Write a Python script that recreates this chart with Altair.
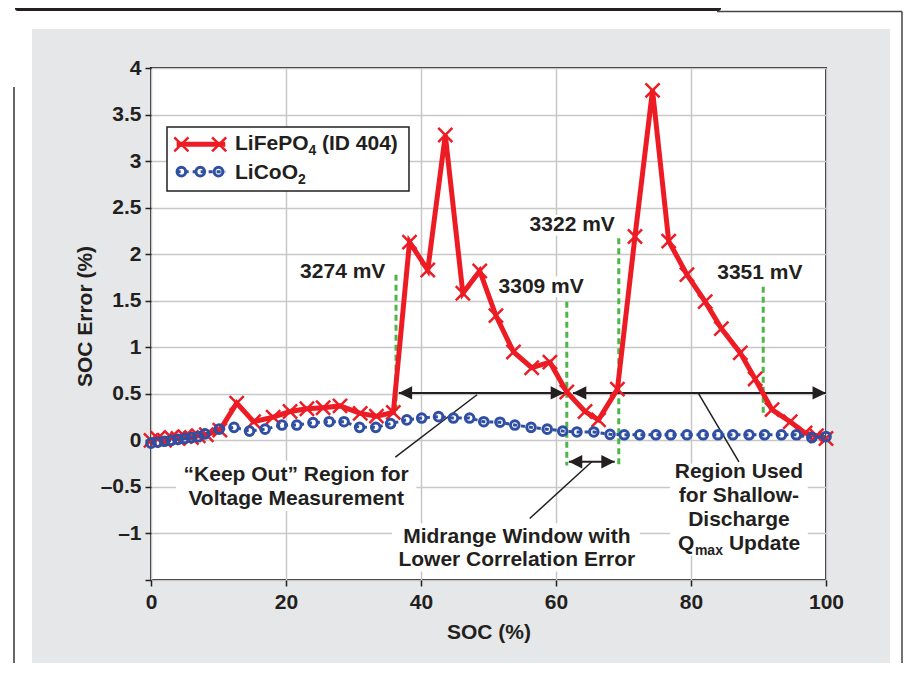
import altair as alt
import pandas as pd

# ---------------- data ----------------
soc_fe = [0, 1, 2, 3, 4, 5, 6, 7, 8.2, 10.2, 12.7, 15.2, 18.1, 20.6, 23.1, 25.5, 28.0, 31.0,
          33.4, 35.9, 38.3, 41.0, 43.6, 46.2, 48.7, 51.1, 53.7, 56.4, 59.1, 61.6, 64.3, 66.3,
          69.1, 71.7, 74.3, 76.7, 79.4, 82.1, 84.5, 87.3, 89.5, 92.0, 94.7, 96.9, 98.6, 100]
err_fe = [0.0, 0.02, 0.0, 0.03, 0.02, 0.04, 0.03, 0.05, 0.06, 0.11, 0.40, 0.20, 0.25, 0.31,
          0.34, 0.35, 0.37, 0.29, 0.26, 0.30, 2.13, 1.83, 3.28, 1.58, 1.82, 1.34, 0.95, 0.78,
          0.84, 0.52, 0.31, 0.22, 0.55, 2.19, 3.76, 2.14, 1.78, 1.49, 1.20, 0.94, 0.66, 0.33,
          0.20, 0.08, 0.05, 0.02]

soc_co = [0, 1, 2, 3, 4, 5, 6, 7, 8, 10.1, 12.3, 14.6, 16.9, 19.4, 21.6, 24.0, 26.4, 28.6,
          30.9, 33.3, 35.5, 37.9, 40.1, 42.6, 44.8, 47.2, 49.3, 51.7, 53.9, 56.3, 58.7, 61.0,
          63.1, 65.6, 68.0, 70.1, 72.4, 74.8, 77.0, 79.4, 81.8, 84.0, 86.2, 88.6, 90.9, 93.4,
          95.6, 97.9, 100]
err_co = [-0.03, -0.02, -0.01, 0.0, 0.01, 0.02, 0.03, 0.04, 0.07, 0.12, 0.14, 0.10, 0.12,
          0.165, 0.165, 0.19, 0.20, 0.20, 0.14, 0.14, 0.18, 0.22, 0.24, 0.255, 0.24, 0.24,
          0.20, 0.195, 0.165, 0.14, 0.12, 0.10, 0.09, 0.09, 0.065, 0.06, 0.06, 0.06, 0.06,
          0.06, 0.06, 0.06, 0.06, 0.06, 0.06, 0.06, 0.06, 0.03, 0.04]

x_ticks = [0, 20, 40, 60, 80, 100]
y_ticks = [-1.5, -1, -0.5, 0, 0.5, 1, 1.5, 2, 2.5, 3, 3.5, 4]

# voltage markers (green dashed)
mv_label = ["3274 mV", "3309 mV", "3322 mV", "3351 mV"]
mv_soc = [36.3, 61.6, 69.3, 90.7]
mv_top = [1.78, 1.49, 2.17, 1.65]
mv_bottom = [0.28, -0.27, -0.27, 0.29]
mv_label_soc = [28.4, 57.8, 62.4, 90.2]
mv_label_err = [1.81, 1.65, 2.31, 1.80]

# double arrows
arr_from = [36.7, 62.5, 61.9]
arr_to = [61.2, 100.0, 68.7]
arr_err = [0.51, 0.51, -0.23]

# leader lines
lead_soc = [36.2, 56.1, 81.1]
lead_err = [-0.18, -0.84, 0.505]
lead_soc2 = [48.3, 65.3, 87.1]
lead_err2 = [0.49, -0.23, -0.23]

# annotation text lines
note_text = ["\u201cKeep Out\u201d Region for", "Voltage Measurement",
             "Midrange Window with", "Lower Correlation Error",
             "Region Used", "for Shallow-", "Discharge"]
note_soc = [21.5, 21.5, 54.2, 54.2, 87.1, 87.1, 87.1]
note_err = [-0.37, -0.63, -1.04, -1.29, -0.34, -0.60, -0.86]

# white boxes behind annotation text
box_soc = [3.7, 35.7, 76.9, 21.8, 51.3, 55.9, 83.7]
box_soc2 = [39.3, 72.4, 97.3, 35.0, 64.3, 68.9, 96.7]
box_err = [-0.22, -0.89, -0.25, 1.70, 1.54, 2.20, 1.69]
box_err2 = [-0.76, -1.41, -1.24, 1.92, 1.76, 2.42, 1.91]

INK = "#231f20"
RED = "#ed1c24"
BLUE = "#2f4fa2"
GREEN = "#4cb748"
FONT = "Liberation Sans, Arial, Helvetica, sans-serif"

one = pd.DataFrame({"a": [0]})
fe = pd.DataFrame({"soc": soc_fe, "err": err_fe})
co = pd.DataFrame({"soc": soc_co, "err": err_co})
mv = pd.DataFrame({"soc": mv_soc, "err": mv_top, "err2": mv_bottom})
mvl = pd.DataFrame({"soc": mv_label_soc, "err": mv_label_err, "label": mv_label})
arr = pd.DataFrame({"soc": arr_from, "soc2": arr_to, "err": arr_err})
lead = pd.DataFrame({"soc": lead_soc, "err": lead_err, "soc2": lead_soc2, "err2": lead_err2})
notes = pd.DataFrame({"soc": note_soc, "err": note_err, "label": note_text})
boxes = pd.DataFrame({"soc": box_soc, "soc2": box_soc2, "err": box_err, "err2": box_err2})

xs = alt.Scale(domain=[0, 100], nice=False, zero=False)
ys = alt.Scale(domain=[-1.5, 4], nice=False, zero=False)

X_AXIS = alt.Axis(values=x_ticks, title="SOC (%)", grid=True, gridColor="#c8c8c8",
                  gridWidth=1.5, domain=False, ticks=True, tickSize=6, tickWidth=1.5,
                  tickColor=INK, labelFont=FONT, labelFontWeight="bold", labelFontSize=21,
                  labelColor=INK, labelPadding=5, labelFlush=False, labelOverlap=False,
                  titleFont=FONT, titleFontWeight="bold", titleFontSize=21, titleColor=INK,
                  titleY=52, titleBaseline="middle")
Y_AXIS = alt.Axis(values=y_ticks, title="SOC Error (%)", grid=True, gridColor="#c8c8c8",
                  gridWidth=1.5, domain=False, ticks=True, tickSize=6, tickWidth=1.5,
                  tickColor=INK, labelFont=FONT, labelFontWeight="bold", labelFontSize=21,
                  labelColor=INK, labelPadding=4, labelOverlap=False,
                  labelExpr="datum.value == -1.5 ? '' : (datum.value < 0 ? '\u2013' + format(-datum.value, '') : format(datum.value, ''))",
                  titleFont=FONT, titleFontWeight="bold", titleFontSize=21, titleColor=INK,
                  titleX=-66, titleY=248, titleBaseline="middle")


def X(field="soc"):
    return alt.X(f"{field}:Q", scale=xs, axis=X_AXIS)


def Y(field="err"):
    return alt.Y(f"{field}:Q", scale=ys, axis=Y_AXIS)


# ---------- decorations in pixel space (page frame) ----------
def prect(x, x2, y, y2, color, **kw):
    return alt.Chart(one).mark_rect(color=color, **kw).encode(
        x=alt.value(x), x2=alt.value(x2), y=alt.value(y), y2=alt.value(y2))


def pline(x, x2, y, y2, color, width):
    return alt.Chart(one).mark_rule(color=color, strokeWidth=width).encode(
        x=alt.value(x), x2=alt.value(x2), y=alt.value(y), y2=alt.value(y2))


frame = [
    prect(-143, 752, -60, -39, "white"),
    prect(-143, -119, -60, 600, "white"),
    prect(739, 752, -60, 600, "white"),
    prect(-136, 570, -62, -57, "#231f20", cornerRadiusBottomRight=6, cornerRadiusBottomLeft=6),
    pline(566, 751, -56.5, -56.5, "#444444", 1.5),
    pline(751, 751, -56.5, 600, "#444444", 1.5),
    pline(-137, -137, 19, 600, "#666666", 2),
]

# ---------- plot layers ----------
white_boxes = alt.Chart(boxes).mark_rect(color="white").encode(
    x=X(), x2="soc2:Q", y=Y(), y2="err2:Q")

green = alt.Chart(mv).mark_rule(color=GREEN, strokeWidth=3, strokeDash=[6, 4]).encode(
    x=X(), y=Y(), y2="err2:Q")

mv_text = alt.Chart(mvl).mark_text(font=FONT, fontWeight="bold", fontSize=21, color=INK,
                                   align="center", baseline="middle").encode(
    x=X(), y=Y(), text="label:N")

arrow_shaft = alt.Chart(arr).mark_rule(color=INK, strokeWidth=2).encode(
    x=X(), x2="soc2:Q", y=Y())
arrow_left = alt.Chart(arr).mark_point(shape="M0,0L2,-1L2,1Z", filled=True, color=INK,
                                       size=180, opacity=1).encode(x=X(), y=Y())
arrow_right = alt.Chart(arr).mark_point(shape="M0,0L-2,-1L-2,1Z", filled=True, color=INK,
                                        size=180, opacity=1).encode(x=X("soc2"), y=Y())

leaders = alt.Chart(lead).mark_rule(color=INK, strokeWidth=1.5).encode(
    x=X(), x2="soc2:Q", y=Y(), y2="err2:Q")

note_layer = alt.Chart(notes).mark_text(font=FONT, fontWeight="bold", fontSize=21, color=INK,
                                        align="center", baseline="middle").encode(
    x=X(), y=Y(), text="label:N")

qmax = pd.DataFrame({"soc": [87.1], "err": [-1.11]})
q_main = alt.Chart(qmax).mark_text(text="Q", font=FONT, fontWeight="bold", fontSize=21,
                                   color=INK, align="left", baseline="middle", dx=-61).encode(
    x=X(), y=Y())
q_sub = alt.Chart(qmax).mark_text(text="max", font=FONT, fontWeight="bold", fontSize=14,
                                  color=INK, align="left", baseline="middle", dx=-44, dy=7).encode(
    x=X(), y=Y())
q_rest = alt.Chart(qmax).mark_text(text="Update", font=FONT, fontWeight="bold", fontSize=21,
                                   color=INK, align="left", baseline="middle", dx=-10).encode(
    x=X(), y=Y())

red_line = alt.Chart(fe).mark_line(color=RED, strokeWidth=5, strokeJoin="miter").encode(
    x=X(), y=Y())
red_pts = alt.Chart(fe).mark_point(shape="M-1,-1L1,1M-1,1L1,-1", filled=False, color=RED,
                                   strokeWidth=2.5, size=200, opacity=1).encode(x=X(), y=Y())

blue_line = alt.Chart(co).mark_line(color=BLUE, strokeWidth=3, strokeDash=[4, 4]).encode(
    x=X(), y=Y())
blue_pts = alt.Chart(co).mark_point(shape="circle", filled=False, color=BLUE, strokeWidth=3,
                                    size=75, opacity=1).encode(x=X(), y=Y())

# ---------- legend (drawn in data space) ----------
leg_box = pd.DataFrame({"soc": [2.37], "soc2": [38.22], "err": [3.366], "err2": [2.679]})
legend_box = alt.Chart(leg_box).mark_rect(fill="white", stroke=INK, strokeWidth=1.5).encode(
    x=X(), x2="soc2:Q", y=Y(), y2="err2:Q")
leg_red = pd.DataFrame({"soc": [3.8, 11.0], "err": [3.18, 3.18]})
leg_red_m = pd.DataFrame({"soc": [4.5, 10.1], "err": [3.18, 3.18]})
leg_blue = pd.DataFrame({"soc": [3.8, 11.0], "err": [2.886, 2.886]})
leg_blue_m = pd.DataFrame({"soc": [4.5, 7.3, 10.0], "err": [2.886, 2.886, 2.886]})
legend_layers = [
    legend_box,
    alt.Chart(leg_red).mark_line(color=RED, strokeWidth=5).encode(x=X(), y=Y()),
    alt.Chart(leg_red_m).mark_point(shape="M-1,-1L1,1M-1,1L1,-1", filled=False, color=RED,
                                    strokeWidth=2.5, size=200, opacity=1).encode(x=X(), y=Y()),
    alt.Chart(leg_blue).mark_line(color=BLUE, strokeWidth=3, strokeDash=[4, 4]).encode(x=X(), y=Y()),
    alt.Chart(leg_blue_m).mark_point(shape="circle", filled=False, color=BLUE, strokeWidth=3,
                                     size=75, opacity=1).encode(x=X(), y=Y()),
]
leg_t1 = pd.DataFrame({"soc": [12.44], "err": [3.18]})
leg_t2 = pd.DataFrame({"soc": [12.44], "err": [2.877]})


def ltxt(df, txt, size, dx, dy=0):
    return alt.Chart(df).mark_text(text=txt, font=FONT, fontWeight="bold", fontSize=size,
                                   color=INK, align="left", baseline="middle", dx=dx,
                                   dy=dy).encode(x=X(), y=Y())


legend_layers += [
    ltxt(leg_t1, "LiFePO", 21, 0),
    ltxt(leg_t1, "4", 14, 73.5, 7),
    ltxt(leg_t1, "(ID 404)", 21, 87),
    ltxt(leg_t2, "LiCoO", 21, 0),
    ltxt(leg_t2, "2", 14, 63, 7),
]

chart = alt.layer(
    white_boxes,
    green,
    mv_text,
    arrow_shaft, arrow_left, arrow_right,
    leaders,
    note_layer, q_main, q_sub, q_rest,
    red_line, red_pts,
    blue_line, blue_pts,
    *legend_layers,
    *frame,
).properties(
    width=675, height=512,
    padding={"left": 143, "top": 60, "right": 77, "bottom": 83},
    autosize=alt.AutoSizeParams(type="none"),
    background="#e6e7e8",
).configure_view(fill="white", stroke=INK, strokeWidth=2)

chart.save("out.html", embed_options={"renderer": "svg", "actions": False})
